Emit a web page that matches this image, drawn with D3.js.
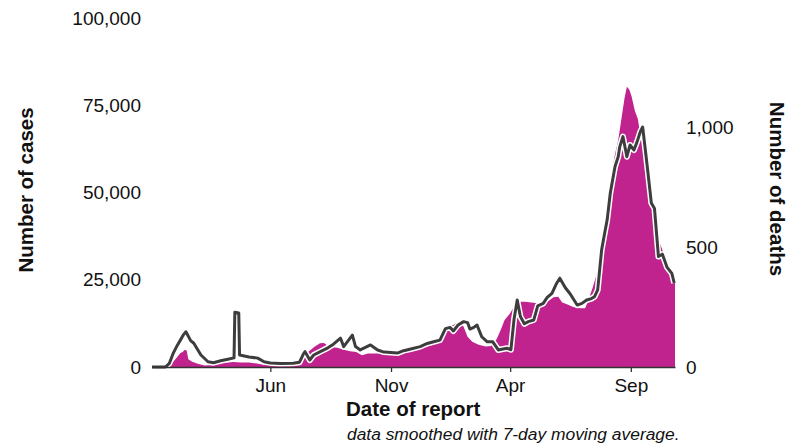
<!DOCTYPE html>
<html><head><meta charset="utf-8">
<script src="https://cdn.jsdelivr.net/npm/d3@7"></script>
<style>body{margin:0;background:#fff}svg{display:block}text{font-family:"Liberation Sans",Arial,Helvetica,sans-serif}</style>
</head><body><svg id="c" width="790" height="445"></svg>
<script>
const caseDates = ["2020-01-03","2020-01-20","2020-01-25","2020-01-30","2020-02-04","2020-02-08","2020-02-11","2020-02-13","2020-02-16","2020-02-18","2020-02-23","2020-03-01","2020-03-10","2020-03-20","2020-03-28","2020-04-05","2020-04-15","2020-04-25","2020-05-05","2020-05-15","2020-05-25","2020-06-05","2020-06-15","2020-06-25","2020-07-05","2020-07-12","2020-07-20","2020-07-27","2020-08-03","2020-08-08","2020-08-15","2020-08-25","2020-09-01","2020-09-10","2020-09-18","2020-09-25","2020-10-03","2020-10-15","2020-10-25","2020-11-05","2020-11-15","2020-11-25","2020-12-05","2020-12-15","2020-12-25","2021-01-01","2021-01-05","2021-01-09","2021-01-15","2021-01-22","2021-01-27","2021-02-01","2021-02-06","2021-02-12","2021-02-20","2021-03-01","2021-03-08","2021-03-15","2021-03-20","2021-03-25","2021-04-01","2021-04-06","2021-04-12","2021-04-20","2021-04-28","2021-05-06","2021-05-14","2021-05-20","2021-05-26","2021-06-01","2021-06-06","2021-06-12","2021-06-20","2021-06-28","2021-07-05","2021-07-09","2021-07-12","2021-07-15","2021-07-19","2021-07-23","2021-07-27","2021-07-31","2021-08-04","2021-08-08","2021-08-12","2021-08-16","2021-08-20","2021-08-24","2021-08-27","2021-08-30","2021-09-02","2021-09-06","2021-09-10","2021-09-13","2021-09-17","2021-09-21","2021-09-25","2021-09-29","2021-10-03","2021-10-07","2021-10-11","2021-10-15","2021-10-20","2021-10-24","2021-10-27"];
const caseValues = [0,50,400,1500,2900,4000,4300,4900,4700,2200,1500,900,450,600,1000,1200,1400,1300,1300,1000,600,600,600,800,1500,2800,4500,5800,6800,6900,5700,5500,5000,4500,4300,3400,3900,3900,3800,4400,4900,5400,6000,6500,7000,7300,9500,11500,11500,12500,12800,11500,8700,7200,6400,5900,6000,8000,10600,13500,15400,17300,18700,18700,18500,18300,18300,19000,20000,20100,18500,18000,17200,16800,16800,19000,21000,23000,26000,29500,36000,44000,50000,56000,61000,65000,71000,77000,80300,79500,77500,73500,71000,66500,62000,56000,50500,45000,41500,36000,33500,31000,28500,26500,24500];

const deathDates = ["2020-01-03","2020-01-20","2020-01-25","2020-01-30","2020-02-04","2020-02-08","2020-02-12","2020-02-15","2020-02-21","2020-02-25","2020-03-05","2020-03-14","2020-03-21","2020-03-30","2020-04-08","2020-04-16","2020-04-17","2020-04-22","2020-04-23","2020-05-05","2020-05-16","2020-05-24","2020-06-01","2020-06-14","2020-06-30","2020-07-08","2020-07-13","2020-07-15","2020-07-21","2020-07-26","2020-08-04","2020-08-13","2020-08-20","2020-08-29","2020-09-02","2020-09-13","2020-09-17","2020-09-23","2020-10-06","2020-10-15","2020-10-23","2020-11-01","2020-11-09","2020-11-17","2020-11-26","2020-12-08","2020-12-17","2020-12-25","2021-01-02","2021-01-09","2021-01-15","2021-01-19","2021-01-25","2021-02-01","2021-02-06","2021-02-09","2021-02-14","2021-02-18","2021-02-24","2021-03-03","2021-03-10","2021-03-17","2021-03-23","2021-03-28","2021-04-02","2021-04-06","2021-04-10","2021-04-14","2021-04-19","2021-04-24","2021-05-01","2021-05-06","2021-05-13","2021-05-18","2021-05-24","2021-05-30","2021-06-03","2021-06-10","2021-06-16","2021-06-25","2021-07-01","2021-07-07","2021-07-13","2021-07-17","2021-07-21","2021-07-26","2021-07-30","2021-08-02","2021-08-06","2021-08-12","2021-08-16","2021-08-18","2021-08-22","2021-08-27","2021-08-31","2021-09-05","2021-09-09","2021-09-13","2021-09-16","2021-09-22","2021-09-27","2021-10-01","2021-10-06","2021-10-11","2021-10-17","2021-10-23","2021-10-26"];
const deathValues = [0,0,15,58,90,112,135,147,110,99,50,22,18,26,32,38,228,225,50,42,37,22,17,15,16,20,55,64,29,50,65,80,95,120,85,133,85,71,92,71,62,60,58,68,75,85,98,105,112,160,165,150,175,189,185,158,165,175,126,105,105,71,75,78,72,200,279,210,180,189,196,255,265,290,307,349,370,330,305,258,265,279,285,293,321,488,560,613,725,835,876,918,960,876,925,904,939,980,1000,830,683,660,460,470,415,390,350];

const tickDates = ["2020-06-01","2020-11-01","2021-04-01","2021-09-01"];
const tickLabels = ["Jun","Nov","Apr","Sep"];
const caseTicks = [0,25000,50000,75000,100000];
const deathTicks = [0,500,1000];

const parse = d3.utcParse("%Y-%m-%d");
const cases = caseDates.map((d,i)=>({date:parse(d), v:caseValues[i]}));
const deaths = deathDates.map((d,i)=>({date:parse(d), v:deathValues[i]}));

const svg = d3.select("#c");
const x = d3.scaleUtc().domain([parse("2020-01-03"), parse("2021-10-27")]).range([152, 675]);
const yC = d3.scaleLinear().domain([0,100000]).range([367,18]);
const yD = d3.scaleLinear().domain([0,1454]).range([367,18]);

svg.append("path").datum(cases)
  .attr("fill","#c0228e")
  .attr("d", d3.area().x(d=>x(d.date)).y0(yC(0)).y1(d=>yC(d.v)));

const line = d3.line().x(d=>x(d.date)).y(d=>yD(d.v));
svg.append("path").datum(deaths).attr("fill","none").attr("stroke","#fff")
  .attr("stroke-width",6).attr("stroke-linejoin","round").attr("d",line);
svg.append("path").datum(deaths).attr("fill","none").attr("stroke","#3d3d3d")
  .attr("stroke-width",3).attr("stroke-linejoin","round").attr("d",line);

const gx = svg.append("g").attr("transform","translate(0,367)")
  .call(d3.axisBottom(x).tickValues(tickDates.map(parse)).tickFormat((d,i)=>tickLabels[i]).tickSize(5).tickSizeOuter(0).tickPadding(7));
gx.select(".domain").attr("stroke","#333").attr("stroke-width",1.6);
gx.selectAll(".tick line").attr("stroke","#333").attr("stroke-width",1.3);
gx.selectAll("text").attr("font-size",19).attr("fill","#111").attr("font-family","Liberation Sans, Arial, sans-serif");

const gl = svg.append("g").attr("transform","translate(152,0)")
  .call(d3.axisLeft(yC).tickValues(caseTicks).tickFormat(d3.format(",")).tickSize(0).tickPadding(11));
gl.select(".domain").remove();
gl.selectAll("text").attr("font-size",19).attr("fill","#111").attr("font-family","Liberation Sans, Arial, sans-serif");

const gr = svg.append("g").attr("transform","translate(675,0)")
  .call(d3.axisRight(yD).tickValues(deathTicks).tickFormat(d3.format(",")).tickSize(0).tickPadding(11));
gr.select(".domain").remove();
gr.selectAll("text").attr("font-size",19).attr("fill","#111").attr("font-family","Liberation Sans, Arial, sans-serif");

svg.append("text").attr("transform","translate(33,190) rotate(-90)")
  .attr("text-anchor","middle").attr("font-weight","bold").attr("font-size",20.5).attr("fill","#111")
  .text("Number of cases");
svg.append("text").attr("transform","translate(770,189) rotate(90)")
  .attr("text-anchor","middle").attr("font-weight","bold").attr("font-size",20.5).attr("fill","#111")
  .text("Number of deaths");
svg.append("text").attr("x",346).attr("y",416)
  .attr("font-weight","bold").attr("font-size",20.5).attr("fill","#111")
  .text("Date of report");
svg.append("text").attr("x",347).attr("y",440)
  .attr("font-style","italic").attr("font-size",17.4).attr("fill","#111")
  .text("data smoothed with 7-day moving average.");
</script></body></html>
